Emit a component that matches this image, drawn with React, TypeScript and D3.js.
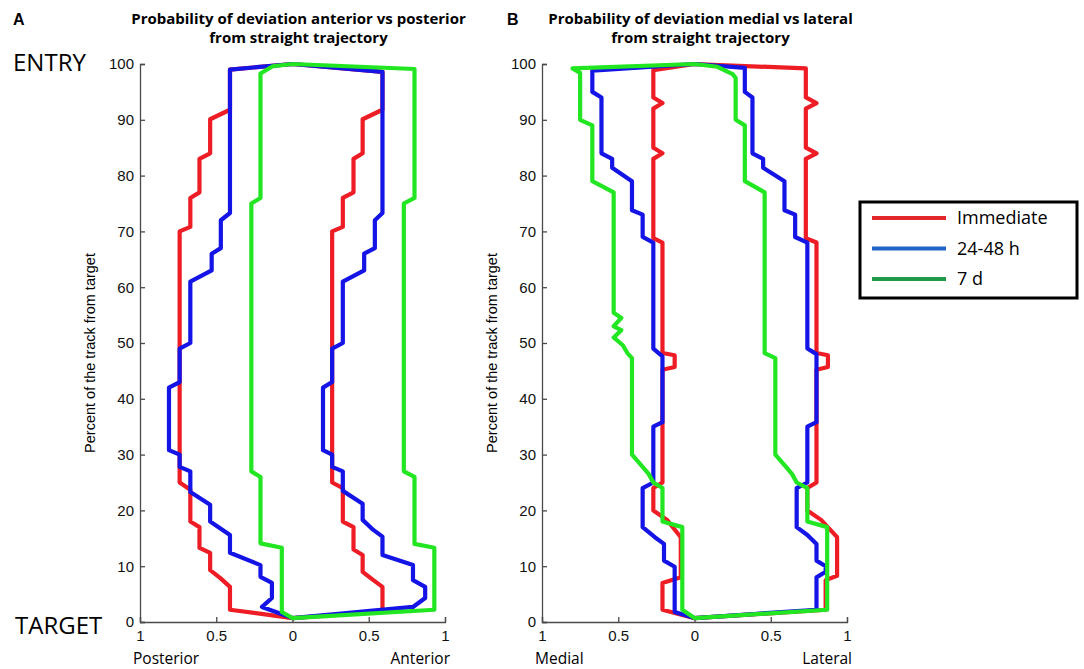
import { axisBottom, axisLeft, line, scaleLinear, select } from "d3";
import { useEffect, useRef } from "react";

type Pt = [number, number];

const seriesNames = ["Immediate", "24-48 h", "7 d"];
const lineColors = ["#ee1c24", "#1414e6", "#22e622"];
const legendColors = ["#e3262b", "#1f63c6", "#1f9a48"];
const xTicks = [-1, -0.5, 0, 0.5, 1];
const yTicks = [0, 10, 20, 30, 40, 50, 60, 70, 80, 90, 100];
const topApex: Pt = [0, 100];
const bottomApex: Pt = [0, 0.7];

// panel A: anterior vs posterior (x, percent)
const aImmediateLeft: Pt[] = [
  [-0.41, 99], [-0.41, 91.8], [-0.54, 90.1], [-0.54, 84], [-0.61, 83], [-0.61, 77],
  [-0.67, 76], [-0.67, 70.8], [-0.74, 70], [-0.74, 25], [-0.67, 23.7], [-0.67, 18],
  [-0.61, 17], [-0.61, 13.3], [-0.54, 12.4], [-0.54, 9.3], [-0.475, 7.9], [-0.41, 6.3],
  [-0.41, 2.2],
];
const aImmediateRight: Pt[] = [
  [0.59, 98.6], [0.59, 91.8], [0.46, 90.1], [0.46, 84], [0.4, 83], [0.4, 77],
  [0.33, 76], [0.33, 70.8], [0.26, 70], [0.26, 25], [0.33, 24], [0.33, 18],
  [0.4, 17], [0.4, 13], [0.46, 12], [0.46, 9], [0.53, 7.5], [0.59, 6.3], [0.59, 1.9],
];
const aHoursLeft: Pt[] = [
  [-0.41, 99], [-0.41, 73.3], [-0.47, 72], [-0.47, 67], [-0.53, 66], [-0.53, 63],
  [-0.67, 61], [-0.67, 50], [-0.74, 49], [-0.74, 43], [-0.81, 42], [-0.81, 30.8],
  [-0.74, 30], [-0.74, 27.8], [-0.67, 27], [-0.67, 23.3], [-0.54, 21], [-0.54, 18],
  [-0.475, 16.8], [-0.41, 15.6], [-0.41, 12.4], [-0.21, 10.2], [-0.21, 8.1],
  [-0.135, 7], [-0.135, 4.3], [-0.2, 2.7],
];
const aHoursRight: Pt[] = [
  [0.59, 98.6], [0.59, 73.3], [0.54, 72], [0.54, 67], [0.47, 66], [0.47, 63],
  [0.33, 61], [0.33, 50], [0.26, 49], [0.26, 43], [0.2, 42], [0.2, 30.8],
  [0.26, 30], [0.26, 27.8], [0.33, 27], [0.33, 23.5], [0.46, 21.2], [0.46, 18.3],
  [0.53, 16.5], [0.59, 15.3], [0.59, 12], [0.79, 10.2], [0.79, 7.5], [0.87, 6.3],
  [0.87, 4.3], [0.79, 2.7],
];
const aDaysLeft: Pt[] = [
  [-0.13, 99.6], [-0.21, 98.3], [-0.21, 76], [-0.27, 75], [-0.27, 27], [-0.21, 26],
  [-0.21, 14.1], [-0.07, 13.3], [-0.07, 1.8],
];
const aDaysRight: Pt[] = [
  [0.8, 99.1], [0.8, 76], [0.73, 75], [0.73, 27], [0.8, 26], [0.8, 14],
  [0.93, 13.3], [0.93, 2.2],
];

// panel B: medial vs lateral
const bImmediateLeft: Pt[] = [
  [-0.27, 98.9], [-0.27, 94], [-0.21, 93], [-0.27, 92], [-0.27, 85], [-0.21, 84],
  [-0.27, 83], [-0.27, 68.8], [-0.21, 68], [-0.21, 48.2], [-0.13, 47.8], [-0.13, 45.7],
  [-0.21, 45.2], [-0.21, 25], [-0.27, 24], [-0.27, 20], [-0.18, 18.3], [-0.09, 15.2],
  [-0.09, 8], [-0.21, 7], [-0.21, 2.2],
];
const bImmediateRight: Pt[] = [
  [0.73, 99.2], [0.73, 94], [0.8, 93], [0.73, 92], [0.73, 85], [0.8, 84],
  [0.73, 83], [0.73, 68.8], [0.8, 68], [0.8, 48.2], [0.875, 47.8], [0.875, 45.7],
  [0.8, 45.2], [0.8, 25], [0.74, 24], [0.74, 20], [0.83, 18.3], [0.935, 15.2],
  [0.935, 8.3], [0.86, 7.5], [0.86, 2.2],
];
const bHoursLeft: Pt[] = [
  [-0.67, 98.8], [-0.67, 95], [-0.61, 94], [-0.61, 84], [-0.54, 83], [-0.54, 81.4],
  [-0.41, 79], [-0.41, 73.8], [-0.34, 73], [-0.34, 69], [-0.27, 68], [-0.27, 49],
  [-0.21, 47.6], [-0.21, 35.8], [-0.27, 35], [-0.27, 25], [-0.34, 24], [-0.34, 17],
  [-0.26, 15.2], [-0.2, 14], [-0.2, 11], [-0.13, 9.9], [-0.13, 1.8],
];
const bHoursRight: Pt[] = [
  [0.33, 99.3], [0.33, 95], [0.38, 94], [0.38, 84], [0.45, 83], [0.45, 81.4],
  [0.59, 79], [0.59, 73.8], [0.66, 73], [0.66, 69], [0.74, 68], [0.74, 49],
  [0.8, 48], [0.8, 35.8], [0.74, 35], [0.74, 25], [0.67, 24], [0.67, 17],
  [0.74, 15.6], [0.8, 14], [0.8, 11], [0.86, 10], [0.86, 9], [0.8, 8], [0.8, 2.2],
];
const bDaysLeft: Pt[] = [
  [-0.8, 99.2], [-0.75, 98.4], [-0.75, 90], [-0.67, 89], [-0.67, 79], [-0.53, 77],
  [-0.53, 55.4], [-0.48, 54.5], [-0.53, 53], [-0.48, 52.3], [-0.53, 51], [-0.47, 49.6],
  [-0.44, 48.2], [-0.41, 47.3], [-0.41, 30], [-0.34, 27.8], [-0.3, 26.5], [-0.27, 25],
  [-0.21, 24], [-0.21, 18], [-0.08, 17], [-0.08, 2.2],
];
const bDaysRight: Pt[] = [
  [0.15, 99.5], [0.25, 98.2], [0.27, 97.5], [0.27, 90], [0.33, 89], [0.33, 79],
  [0.46, 77], [0.46, 48.2], [0.53, 47.3], [0.53, 30], [0.6, 27.8], [0.64, 26.5],
  [0.67, 25], [0.74, 24], [0.74, 18], [0.87, 17], [0.87, 2.2],
];

const panelA = [
  [aImmediateLeft, aImmediateRight],
  [aHoursLeft, aHoursRight],
  [aDaysLeft, aDaysRight],
];
const panelB = [
  [bImmediateLeft, bImmediateRight],
  [bHoursLeft, bHoursRight],
  [bDaysLeft, bDaysRight],
];

const W = 1084;
const H = 669;
const plotTop = 64;
const plotBottom = 622;

const outline = (left: Pt[], right: Pt[]): Pt[] => [
  topApex,
  ...left,
  bottomApex,
  ...right.slice().reverse(),
  topApex,
];

const Panel = ({
  x0,
  x1,
  data,
  letter,
  letterX,
  title,
  sideLeft,
  sideRight,
}: {
  x0: number;
  x1: number;
  data: Pt[][][];
  letter: string;
  letterX: number;
  title: string[];
  sideLeft: string;
  sideRight: string;
}) => {
  const gRef = useRef<SVGGElement>(null);
  const xScale = scaleLinear().domain([-1, 1]).range([x0, x1]);
  const yScale = scaleLinear().domain([0, 100]).range([plotBottom, plotTop]);
  const gen = line<Pt>()
    .x((d) => xScale(d[0]))
    .y((d) => yScale(d[1]));
  const cx = (x0 + x1) / 2;

  useEffect(() => {
    const g = select(gRef.current);
    g.selectAll("*").remove();
    const yAxis = axisLeft(yScale)
      .tickValues(yTicks)
      .tickSize(-5)
      .tickSizeOuter(-5)
      .tickPadding(6);
    const xAxis = axisBottom(xScale)
      .tickValues(xTicks)
      .tickSize(-5)
      .tickSizeOuter(-5)
      .tickPadding(8)
      .tickFormat((d) => String(Math.abs(d as number)));
    const ya = g.append("g").attr("transform", `translate(${x0},0)`).call(yAxis);
    const xa = g.append("g").attr("transform", `translate(0,${plotBottom})`).call(xAxis);
    [ya, xa].forEach((a) => {
      a.selectAll("path, line").attr("stroke", "#4a4a4a").attr("stroke-width", 1.3);
      a.selectAll("text")
        .attr("fill", "#111")
        .style("font-family", "'Liberation Sans', Arial, sans-serif")
        .style("font-size", "15px");
    });
  }, [x0, x1]);

  return (
    <g>
      <text x={letterX} y={25} fontFamily="'Liberation Sans', Arial" fontWeight="bold" fontSize={16}>
        {letter}
      </text>
      {title.map((t, i) => (
        <text
          key={t}
          x={cx + 6}
          y={23.5 + i * 19.5}
          textAnchor="middle"
          fontFamily="'Open Sans', sans-serif"
          fontWeight="bold"
          fontSize={15}
        >
          {t}
        </text>
      ))}
      <text
        transform={`translate(${x0 - 45},${(plotTop + plotBottom) / 2 + 10}) rotate(-90)`}
        textAnchor="middle"
        fontFamily="'Liberation Sans', Arial"
        fontSize={14.5}
      >
        Percent of the track from target
      </text>
      <text x={x0 - 7} y={664} fontFamily="'Open Sans', sans-serif" fontSize={15.5}>
        {sideLeft}
      </text>
      <text x={x1 + 5} y={664} textAnchor="end" fontFamily="'Open Sans', sans-serif" fontSize={15.5}>
        {sideRight}
      </text>
      <g ref={gRef} />
      {data.map(([left, right], i) => (
        <path
          key={seriesNames[i]}
          d={gen(outline(left, right)) ?? ""}
          fill="none"
          stroke={lineColors[i]}
          strokeWidth={4.2}
          strokeLinejoin="round"
        />
      ))}
    </g>
  );
};

const App = () => {
  return (
    <svg
      width={W}
      height={H}
      viewBox={`0 0 ${W} ${H}`}
      style={{ position: "absolute", left: 0, top: 0, background: "#fff" }}
    >
      <rect width={W} height={H} fill="#fff" />
      <text x={13} y={71} fontFamily="'Open Sans', sans-serif" fontSize={24}>
        ENTRY
      </text>
      <text x={15} y={634} fontFamily="'Open Sans', sans-serif" fontSize={24}>
        TARGET
      </text>
      <Panel
        x0={140}
        x1={445}
        data={panelA}
        letter="A"
        letterX={13}
        title={["Probability of deviation anterior vs posterior", "from straight trajectory"]}
        sideLeft="Posterior"
        sideRight="Anterior"
      />
      <Panel
        x0={542}
        x1={847}
        data={panelB}
        letter="B"
        letterX={507}
        title={["Probability of deviation medial vs lateral", "from straight trajectory"]}
        sideLeft="Medial"
        sideRight="Lateral"
      />
      <rect x={860} y={202} width={217} height={96} fill="#fff" stroke="#000" strokeWidth={3} />
      {seriesNames.map((name, i) => (
        <g key={name}>
          <line
            x1={872}
            x2={946}
            y1={218 + i * 30.5}
            y2={218 + i * 30.5}
            stroke={legendColors[i]}
            strokeWidth={4}
          />
          <text x={957} y={224 + i * 30.5} fontFamily="'Open Sans', sans-serif" fontSize={18}>
            {name}
          </text>
        </g>
      ))}
    </svg>
  );
};

export default App;
